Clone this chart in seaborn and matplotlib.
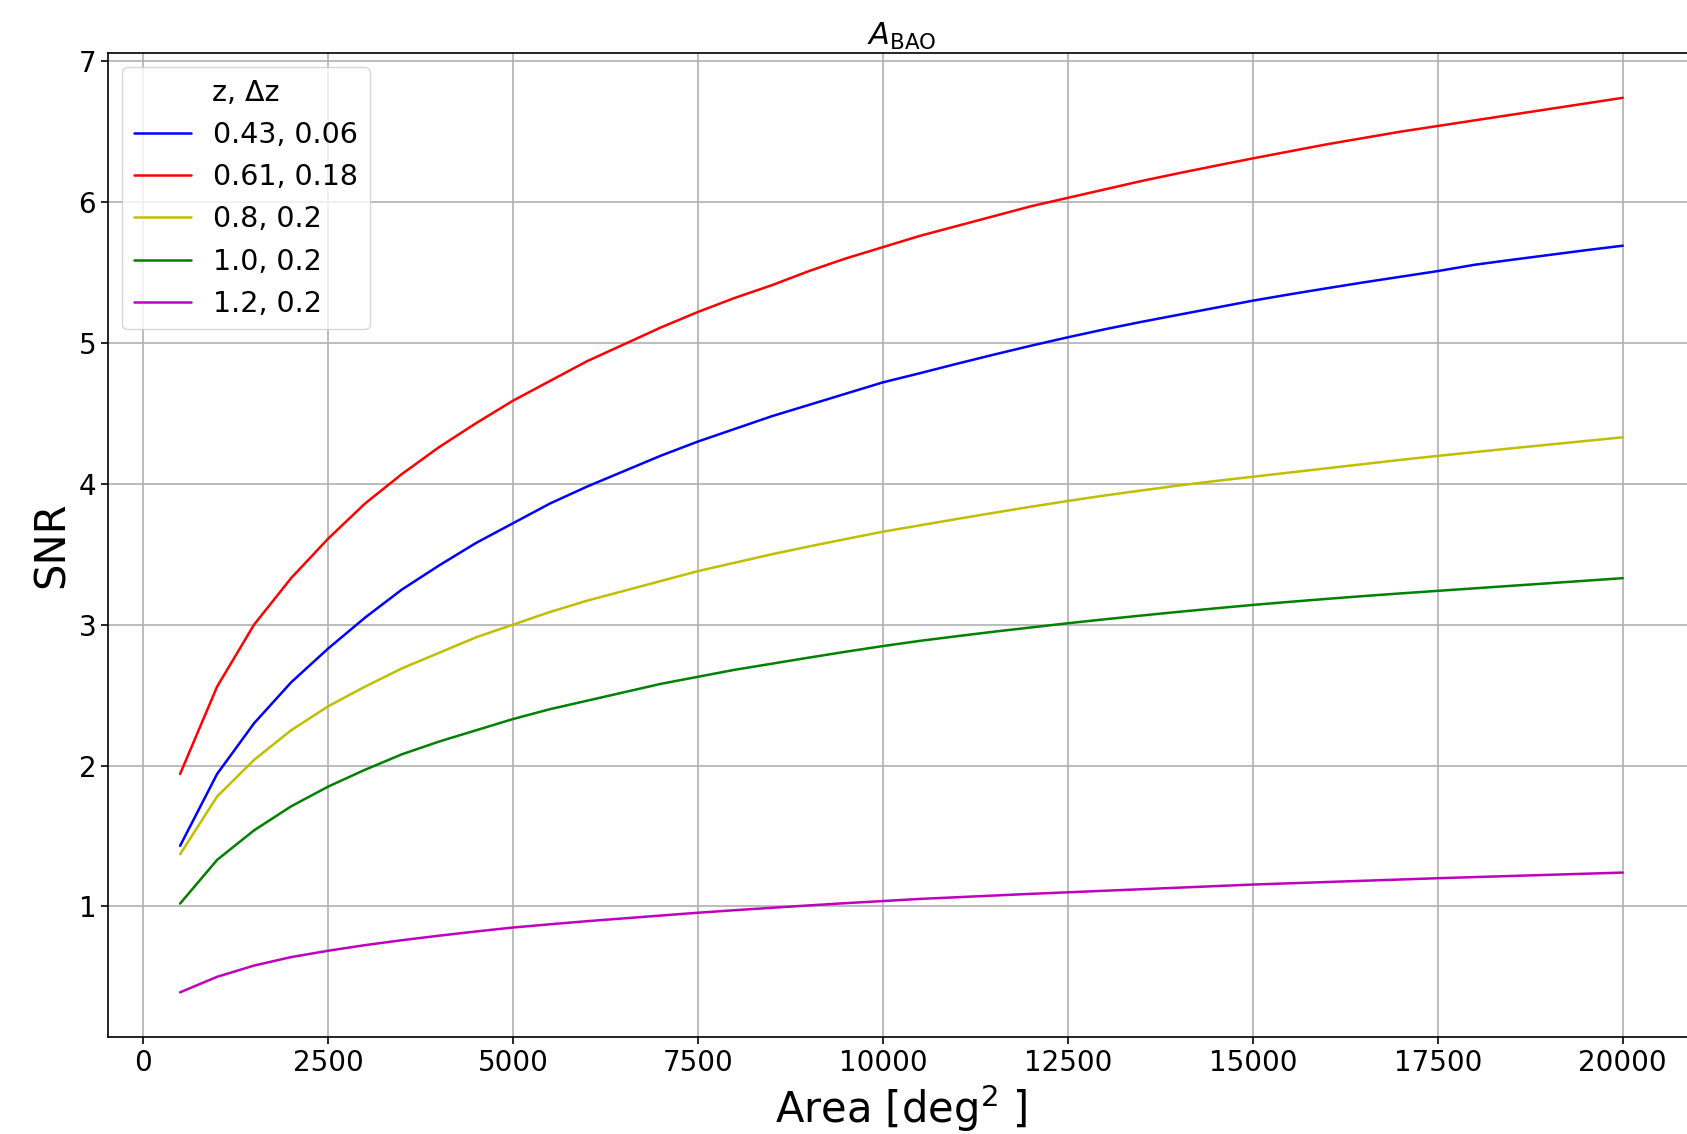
import numpy as np
import pandas as pd
import seaborn as sns
import matplotlib.pyplot as plt

# survey area in deg^2
area = list(range(500, 20001, 500))

labels = ["0.43, 0.06", "0.61, 0.18", "0.8, 0.2", "1.0, 0.2", "1.2, 0.2"]
colors = ["b", "r", "y", "g", "m"]

snr_043 = [1.43, 1.94, 2.30, 2.59, 2.83, 3.05, 3.25, 3.42, 3.58, 3.72,
           3.86, 3.98, 4.09, 4.20, 4.30, 4.39, 4.48, 4.56, 4.64, 4.72,
           4.785, 4.852, 4.917, 4.98, 5.04, 5.097, 5.15, 5.20, 5.25, 5.30,
           5.345, 5.388, 5.43, 5.47, 5.51, 5.555, 5.590, 5.624, 5.658, 5.69]
snr_061 = [1.94, 2.56, 3.00, 3.33, 3.61, 3.86, 4.07, 4.26, 4.43, 4.59,
           4.73, 4.87, 4.99, 5.11, 5.22, 5.32, 5.41, 5.51, 5.60, 5.68,
           5.76, 5.83, 5.90, 5.97, 6.03, 6.09, 6.15, 6.205, 6.258, 6.31,
           6.36, 6.41, 6.455, 6.50, 6.54, 6.58, 6.62, 6.66, 6.70, 6.74]
snr_08 = [1.37, 1.78, 2.04, 2.25, 2.42, 2.56, 2.69, 2.80, 2.91, 3.00,
          3.09, 3.17, 3.24, 3.31, 3.38, 3.44, 3.50, 3.555, 3.608, 3.66,
          3.705, 3.75, 3.794, 3.837, 3.878, 3.917, 3.953, 3.988, 4.02, 4.05,
          4.08, 4.11, 4.14, 4.17, 4.198, 4.225, 4.252, 4.278, 4.304, 4.33]
snr_10 = [1.02, 1.33, 1.54, 1.71, 1.85, 1.97, 2.08, 2.17, 2.25, 2.33,
          2.40, 2.46, 2.52, 2.58, 2.63, 2.68, 2.723, 2.766, 2.808, 2.848,
          2.885, 2.918, 2.95, 2.98, 3.01, 3.038, 3.065, 3.091, 3.116, 3.14,
          3.162, 3.183, 3.203, 3.222, 3.24, 3.258, 3.276, 3.294, 3.312, 3.33]
snr_12 = [0.39, 0.50, 0.58, 0.64, 0.685, 0.725, 0.76, 0.792, 0.822, 0.85,
          0.873, 0.895, 0.915, 0.935, 0.955, 0.973, 0.990, 1.007, 1.023, 1.038,
          1.053, 1.065, 1.077, 1.089, 1.100, 1.111, 1.122, 1.133, 1.144, 1.155,
          1.164, 1.173, 1.182, 1.191, 1.200, 1.208, 1.216, 1.224, 1.232, 1.240]

series = [snr_043, snr_061, snr_08, snr_10, snr_12]

# long format table for seaborn
df = pd.concat([pd.DataFrame({"Area": area, "SNR": s, "z": lab})
                for s, lab in zip(series, labels)], ignore_index=True)

sns.set_style("ticks")
plt.rcParams["font.family"] = ["DejaVu Sans"]
plt.rcParams["text.color"] = "black"
plt.rcParams["axes.labelcolor"] = "black"

fig = plt.figure(figsize=(16.87, 11.34), dpi=100)
# axes run a little past the right edge, like the original crop
ax = fig.add_axes([0.064, 0.0855, 0.9407, 0.8677])

sns.lineplot(data=df, x="Area", y="SNR", hue="z", hue_order=labels,
             palette=colors, linewidth=1.8, ax=ax)

ax.grid(True, color="#b0b0b0", linewidth=1.2)
for sp in ax.spines.values():
    sp.set_color("black")
    sp.set_linewidth(1.2)
ax.tick_params(labelsize=20, length=5, width=1.2, color="black",
               labelcolor="black")
ax.set_xticks(np.arange(0, 20001, 2500))

ax.set_title(r"$A_{\rm BAO}$", fontsize=22, color="black")
ax.set_xlabel(r"Area [deg$^2$ ]", fontsize=30)
ax.set_ylabel("SNR", fontsize=30)
leg = ax.legend(title="z, Δz", fontsize=20.5, title_fontsize=20.5,
                loc="upper left")
for t in leg.get_texts():
    t.set_color("black")
leg.get_title().set_color("black")

fig.savefig("out.png", dpi=100)
